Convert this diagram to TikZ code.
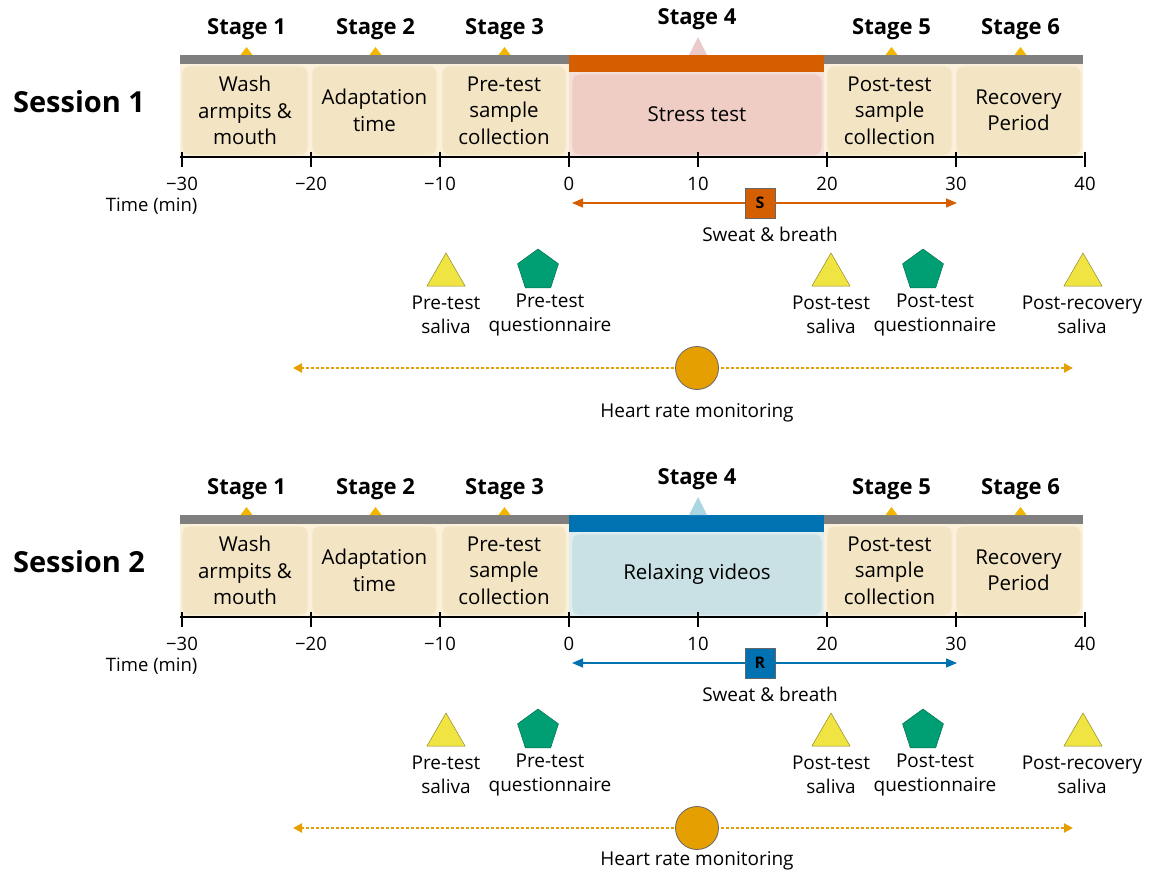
\documentclass[tikz,border=0pt]{standalone}
\usepackage{fontspec}
\setmainfont{Open Sans}
\usetikzlibrary{arrows.meta,shapes.geometric,positioning}

\definecolor{bargray}{HTML}{7F7F7F}
\definecolor{stagebg}{HTML}{FBF1DB}
\definecolor{stagefill}{HTML}{F3E5C4}
\definecolor{markyel}{HTML}{F2B600}
\definecolor{barstress}{HTML}{D55E00}
\definecolor{boxstress}{HTML}{EFCDC5}
\definecolor{bgstress}{HTML}{F6E0DC}
\definecolor{tipstress}{HTML}{EBCBC9}
\definecolor{barrelax}{HTML}{0072B2}
\definecolor{boxrelax}{HTML}{C9E0E4}
\definecolor{bgrelax}{HTML}{DDEDF0}
\definecolor{tiprelax}{HTML}{AAD6E2}
\definecolor{saliva}{HTML}{F0E442}
\definecolor{quest}{HTML}{009E73}
\definecolor{heart}{HTML}{E69F00}

\tikzset{
  stagebox/.style={rectangle, rounded corners=7pt, fill=stagefill, draw=stagebg,
    line width=0.8pt, minimum height=89pt, inner sep=0pt, align=center,
    font=\fontsize{20.5}{26.5}\selectfont},
  stagelbl/.style={font=\bfseries\fontsize{22}{26}\selectfont},
  sesslbl/.style={font=\bfseries\fontsize{29}{32}\selectfont},
  ticklbl/.style={font=\fontsize{18.5}{22}\selectfont},
  marklbl/.style={align=center, inner sep=0pt, font=\fontsize{19}{24}\selectfont},
  salivamark/.style={regular polygon, regular polygon sides=3, minimum size=44pt,
    inner sep=0pt, fill=saliva, draw=saliva!60!black, line width=0.5pt},
  questmark/.style={regular polygon, regular polygon sides=5, minimum size=43pt,
    inner sep=0pt, fill=quest, draw=quest!70!black, line width=0.5pt},
  sampbox/.style={rectangle, minimum size=30pt, inner sep=0pt, draw=black!60,
    line width=0.8pt, font=\bfseries\fontsize{16}{18}\selectfont},
  hrdot/.style={circle, minimum size=43pt, inner sep=0pt, fill=heart, draw=black!60, line width=0.8pt},
  swarrow/.style={-{Triangle[length=11pt,width=9pt]}, line width=1.4pt},
  hrarrow/.style={{Triangle[length=9pt,width=9pt]}-{Triangle[length=9pt,width=9pt]}, heart, line width=2.6pt,
    dash pattern=on 3pt off 2pt},
  axisline/.style={line width=1.4pt, black}
}

\begin{document}
\begin{tikzpicture}[x=1pt, y=-1pt]
  \useasboundingbox (0,0) rectangle (1160,872);

  \foreach \s/\dy/\kind/\task/\mk/\hy in {1/0/stress/Stress test/S/413, 2/460/relax/Relaxing videos/R/401} {
  \begin{scope}[yshift=-\dy pt]
    \node[sesslbl] (sess\s) at (79,102) {Session \s};

    % bars and backgrounds
    \fill[bargray] (180,55) rectangle (1083,64);
    \fill[stagebg] (180,64) rectangle (1083,157);
    \fill[bg\kind] (569,72) rectangle (824,157);
    \fill[bar\kind] (569,55) rectangle (824,72);
    \fill[tip\kind] (689,55) -- (698,37) -- (707,55) -- cycle;

    % stage titles
    \foreach \n/\t in {1/-25, 2/-15, 3/-5, 5/25, 6/35} {
      \node[stagelbl] (st\s\n) at ({569+12.9*\t},29) {Stage \n};
      \fill[markyel] ({569+12.9*\t-6},55) -- ({569+12.9*\t},47) -- ({569+12.9*\t+6},55) -- cycle;
    }
    \node[stagelbl] (st\s4) at (697,19) {Stage 4};

    % stage boxes
    \node[stagebox, minimum width=126pt] (wash\s) at (245,110.5) {Wash\\armpits \&\\mouth};
    \node[stagebox, minimum width=125pt] (adapt\s) at (374.5,110.5) {Adaptation\\time};
    \node[stagebox, minimum width=124pt] (pre\s) at (504,110.5) {Pre-test\\sample\\collection};
    \node[stagebox, fill=box\kind, draw=bg\kind, minimum width=250pt, minimum height=81pt] (task\s) at (697,114.5) {\task};
    \node[stagebox, minimum width=125pt] (post\s) at (889.5,110.5) {Post-test\\sample\\collection};
    \node[stagebox, minimum width=125pt] (recov\s) at (1018.5,110.5) {Recovery\\Period};

    % time axis
    \draw[axisline] (180,157) -- (1083,157);
    \foreach \t in {-30,-20,...,40} {
      \pgfmathtruncatemacro\a{abs(\t)}
      \draw[axisline] ({569+12.9*\t},152) -- ({569+12.9*\t},167);
      \node[ticklbl] at ({569+12.9*\t},184) {\ifnum\t<0 \char"2212\relax\fi\a};
    }
    \node[ticklbl, anchor=east] (time\s) at (201,206) {Time (min)};

    % sweat & breath sampling
    \coordinate (swL\s) at (572,203);
    \coordinate (swR\s) at (957,203);
    \node[sampbox, fill=bar\kind] (samp\s) at (760,203) {\mk};
    \draw[swarrow, bar\kind] (samp\s) -- (swL\s);
    \draw[swarrow, bar\kind] (samp\s) -- (swR\s);
    \node[marklbl] (sw\s) at (770,234) {Sweat \& breath};

    % saliva and questionnaires
    \node[salivamark] (pres\s) at (446,275) {};
    \node[questmark] (preq\s) at (538,270.5) {};
    \node[salivamark] (posts\s) at (831,275) {};
    \node[questmark] (postq\s) at (923,270.5) {};
    \node[salivamark] (recs\s) at (1083,275) {};
    \node[marklbl] (presl\s) at (446,315) {Pre-test\\saliva};
    \node[marklbl] (preql\s) at (550,315) {Pre-test\\questionnaire};
    \node[marklbl] (postsl\s) at (831,315) {Post-test\\saliva};
    \node[marklbl] (postql\s) at (935,315) {Post-test\\questionnaire};
    \node[marklbl] (recsl\s) at (1082,315) {Post-recovery\\saliva};

    % heart rate
    \coordinate (hrL\s) at (293,368);
    \coordinate (hrR\s) at (1073,368);
    \draw[hrarrow] (hrL\s) -- (hrR\s);
    \node[hrdot] (hr\s) at (697,368) {};
    \node[marklbl] (hrl\s) at (697,\hy) {Heart rate monitoring};
  \end{scope}
  }
\end{tikzpicture}
\end{document}
